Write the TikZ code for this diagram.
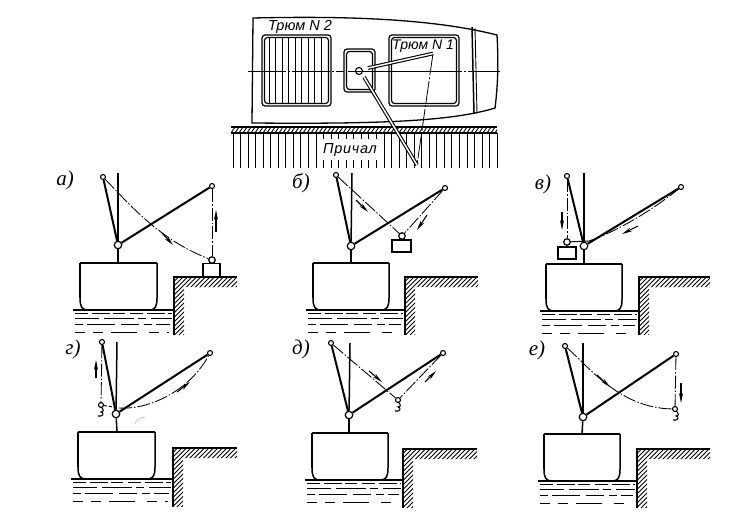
\documentclass[tikz,border=0pt]{standalone}
\usepackage{fontspec}
\setmainfont{Liberation Sans}
\newfontfamily\plabel{Liberation Serif}
\usetikzlibrary{arrows.meta,calc}
\tikzset{
  mastline/.style={line width=1.5pt},
  boomline/.style={line width=2pt},
  ropeline/.style={line width=.85pt,dash pattern=on 13pt off 2pt on 1.5pt off 2pt},
  motion/.style={line width=1.1pt,-{Stealth[length=10pt,width=4pt]}},
  tipnode/.style={circle,draw,fill=white,line width=1.1pt,inner sep=0pt,minimum size=5pt},
  pivotnode/.style={circle,draw,fill=white,line width=1.2pt,inner sep=0pt,minimum size=7.5pt},
  blocknode/.style={circle,draw,fill=white,line width=1.2pt,inner sep=0pt,minimum size=6.5pt},
  cargo/.style={draw,fill=white,line width=1.2pt,inner sep=0pt},
  hullline/.style={line width=1.5pt},
  deckline/.style={line width=1.9pt},
  quayhatch/.style={line width=.75pt},
  waterdash/.style={line width=.95pt},
  hatchcover/.style={draw,line width=1.2pt,rounded corners=3pt},
  panellabel/.style={font=\plabel\itshape\fontsize{21}{21}\selectfont,inner sep=0pt},
  plantext/.style={font=\itshape\fontsize{14.5}{15}\selectfont,inner sep=0pt},
}
% ship, water and quay: hullL hullR top bot quayL quayR quayTop waterL quayBot
\newcommand{\ShipQuay}[9]{%
  \draw[hullline] (#1,#4-12) .. controls (#1,#4-3) and (#1+2,#4) .. (#1+8,#4) -- (#2-8,#4)
     .. controls (#2-2,#4) and (#2,#4-3) .. (#2,#4-12) -- (#2,#3);
  \draw[hullline] (#1,#4-12) -- (#1,#3);
  \draw[deckline] (#1,#3) -- (#2,#3);
  \begin{scope}
    \clip (#5,#7) -- (#6,#7) -- (#6,#7+10) -- (#5+10,#7+10) -- (#5+10,#9) -- (#5,#9) -- cycle;
    \foreach \k in {1,...,34}
      \draw[quayhatch] ({#5+4.5*\k},#7) -- ({#5+4.5*\k-(#9-#7)},#9);
  \end{scope}
  \draw[deckline] (#6,#7) -- (#5,#7) -- (#5,#9);
  \draw[hullline] (#8,#4) -- (#5,#4);
  \draw[waterdash,dash pattern=on 13pt off 4pt on 18pt off 3pt on 12pt off 5pt] (#8+2,#4+3) -- (#5-2,#4+3);
  \draw[waterdash,dash pattern=on 24pt off 5pt on 30pt off 4pt on 8pt off 5pt] (#8+2,#4+8) -- (#5-2,#4+8);
  \draw[waterdash,dash pattern=on 8pt off 4pt on 28pt off 6pt on 18pt off 5pt] (#8+2,#4+14) -- (#5-4,#4+14);
  \draw[waterdash,dash pattern=on 10pt off 8pt on 10pt off 8pt on 26pt off 12pt] (#8+2,#4+22) -- (#5-5,#4+22);
}
% rig: prefix, mast top, mast base, pivot, left tip, right tip
\newcommand{\Rig}[6]{%
  \node[pivotnode] (#1P) at (#4) {};
  \node[tipnode] (#1L) at (#5) {};
  \node[tipnode] (#1R) at (#6) {};
  \coordinate (#1T) at (#2);
  \coordinate (#1B) at (#3);
  \draw[mastline] (#1T) -- (#1P);
  \draw[mastline] (#1P) -- (#1B);
  \draw[boomline] (#1P) -- (#1L);
  \draw[boomline] (#1P) -- (#1R);
}
\newcommand{\HookAt}[2]{\draw[line width=1.1pt] (#1,#2-1) .. controls (#1+3,#2+1) and (#1+3,#2+4) .. (#1,#2+4)
   .. controls (#1+4,#2+5) and (#1+2,#2+9) .. (#1-3,#2+8);}
\begin{document}
\begin{tikzpicture}[x=1pt,y=-1pt]
\useasboundingbox (0,0) rectangle (735,519);
% ===== plan =====
\draw[line width=1.3pt] (253,18) .. controls (340,16) and (430,18) .. (497,35)
   .. controls (498.5,60) and (498,85) .. (495,108)
   .. controls (450,122) and (370,124) .. (252,123) -- cycle;
\draw[line width=1.5pt] (472,27) -- (474,114);
\draw[line width=.9pt] (475,28) -- (477,113.5);
\draw[line width=.8pt,dash pattern=on 38pt off 2pt on 2pt off 2pt] (248,71) -- (500,71);
\node[hatchcover,minimum width=69pt,minimum height=71pt] (h2o) at (296.5,70.5) {};
\node[hatchcover,minimum width=64pt,minimum height=66pt] (h2i) at (296.5,70.5) {};
\foreach \k in {1,...,9}
  \draw[line width=.9pt] ({265+6.45*\k-2},38) -- ({265+6.45*\k-2},103);
\node[hatchcover,fill=white,minimum width=31pt,minimum height=43pt] (hco) at (359.5,70.5) {};
\node[hatchcover,minimum width=26pt,minimum height=38pt] (hci) at (359.5,70.5) {};
\node[hatchcover,minimum width=70pt,minimum height=71pt] (h1o) at (424,70.5) {};
\node[hatchcover,minimum width=65pt,minimum height=66pt] (h1i) at (424,70.5) {};
\draw[line width=.8pt,dash pattern=on 38pt off 2pt on 2pt off 2pt] (348,71) -- (460,71);
% berth
\foreach \k in {0,...,35}
  \draw[line width=1pt] ({233+7.55*\k},133) -- ({233+7.55*\k},168);
\draw[line width=2.4pt] (231,127) -- (497,127);
\draw[line width=1.8pt] (231,133) -- (497,133);
\begin{scope}
  \clip (231,127) rectangle (497,133);
  \foreach \k in {0,...,70}
    \draw[line width=.9pt] ({231+4*\k},133) -- ({235+4*\k},127);
\end{scope}
\node[fill=white,inner sep=0pt,minimum width=55pt,minimum height=21pt] (berthbox) at (350,149.5) {};
\node[plantext] (berth) at (350,150) {\addfontfeature{LetterSpace=5}Причал};
\node[plantext] (t2) at (300,26.5) {Трюм N 2};
\node[plantext] (t1) at (423,46) {\fontsize{14}{14}\selectfont Трюм N 1};
\node[circle,draw,line width=1.1pt,inner sep=0pt,minimum size=7pt] (planC) at (359,71) {};
\coordinate (p1s) at (368,68);
\coordinate (p1e) at (433,53.5);
\coordinate (p2s) at (364,77);
\coordinate (p2e) at (417,165);
\draw[line width=.8pt,dash pattern=on 22pt off 2pt on 2pt off 2pt] (p1e) -- (p2e);
\draw[line width=1.1pt,double=white,double distance=1.5pt] (p1s) -- (p1e);
\draw[line width=1.1pt,double=white,double distance=1.5pt] (p2s) -- (p2e);
% ===== a =====
\node[panellabel] (la) at (65,180) {а)};
\ShipQuay{80}{157}{263}{310}{174}{237}{277}{73}{335}
\Rig{a}{118,173}{118,263}{118,245}{103,177}{212,186}
\node[cargo,minimum width=17pt,minimum height=13pt] (aC) at (211.5,270) {};
\node[blocknode] (aH) at (212,260) {};
\draw[ropeline] (aL) .. controls (130,205) and (160,240) .. (aH);
\draw[ropeline] (aR) -- (aH);
\draw[motion] (162,233) -- (173,245);
\draw[motion] (216,232) -- (216,210);
% ===== b =====
\node[panellabel] (lb) at (301,183) {б)};
\ShipQuay{313}{389}{263}{310}{405}{478}{277}{306}{335}
\Rig{b}{352,173}{351,263}{351,246}{336,175}{445,188}
\node[cargo,minimum width=19pt,minimum height=12pt] (bC) at (401.5,246) {};
\node[blocknode] (bH) at (402,236) {};
\draw[ropeline] (bL) -- (bH);
\draw[ropeline] (bR) -- (bH);
\draw[motion] (356,200) -- (368,212);
\draw[motion] (427,215) -- (417,230);
% ===== v =====
\node[panellabel] (lv) at (543,184) {в)};
\ShipQuay{546}{622}{264}{311}{639}{710}{277}{540}{335}
\Rig{v}{584,173}{584,264}{584,246}{567,176}{681,187}
\node[cargo,minimum width=18pt,minimum height=12pt] (vC) at (567,253) {};
\node[blocknode] (vH) at (567,242) {};
\draw[ropeline] (vL) -- (vH);
\draw[line width=1pt] (vH) -- (589,241);
\draw[ropeline] (589,241) .. controls (615,232) and (650,212) .. (vR);
\draw[motion] (562,212) -- (562,230);
\draw[motion] (638,226) -- (622,234);
% ===== g =====
\node[panellabel] (lg) at (73,349) {г)};
\ShipQuay{78}{155}{432}{479}{173}{237}{448}{71}{507}
\Rig{g}{117,342}{117,432}{116,414}{102,342}{210,353}
\node[tipnode] (gH) at (101,405) {};
\HookAt{101}{408}
\draw[ropeline] (gL) -- (gH);
\draw[line width=.9pt,dash pattern=on 3pt off 2pt] (gH) -- (119,408);
\draw[ropeline] (119,408) .. controls (150,410) and (190,390) .. (gR);
\draw[motion] (96,378) -- (96,360);
\draw[motion] (177,392) -- (190,382);
\draw[line width=.4pt,black!35] (135,424) .. controls (136,419) and (140,418) .. (145,417);
% ===== d =====
\node[panellabel] (ld) at (301,349) {д)};
\ShipQuay{312}{388}{433}{480}{403}{477}{449}{305}{508}
\Rig{d}{350,343}{349,433}{349,415}{331,343}{443,353}
\node[tipnode] (dH) at (398,400) {};
\HookAt{398}{403}
\draw[ropeline] (dL) -- (dH);
\draw[ropeline] (dR) -- (dH);
\draw[motion] (369,371) -- (382,382);
\draw[motion] (425,382) -- (436,371);
% ===== e =====
\node[panellabel] (le) at (537,350) {е)};
\ShipQuay{544}{620}{434}{481}{637}{710}{449}{538}{508}
\Rig{e}{583,343}{582,434}{583,417}{565,346}{676,354}
\node[tipnode] (eH) at (675,409) {};
\HookAt{676}{412}
\draw[ropeline] (eL) .. controls (590,368) and (620,408) .. (eH);
\draw[ropeline] (eR) -- (eH);
\draw[motion] (597,375) -- (610,387);
\draw[motion] (681,383) -- (681,403);
\end{tikzpicture}
\end{document}
